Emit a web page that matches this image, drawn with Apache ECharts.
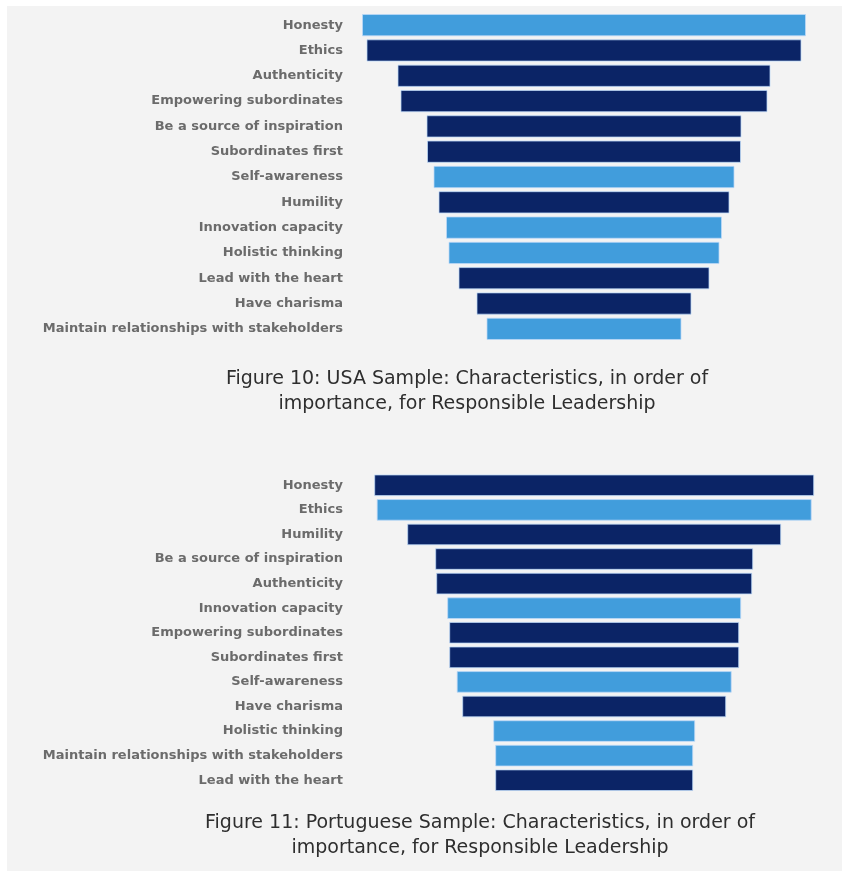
<!DOCTYPE html>
<html>
<head>
<meta charset="utf-8">
<script src="https://cdn.jsdelivr.net/npm/echarts@6/dist/echarts.min.js"></script>
<style>
  html, body { margin: 0; padding: 0; background: #ffffff; }
  #chart { width: 842px; height: 871px; }
</style>
</head>
<body>
<div id="chart"></div>
<script>
// Figure 10 – USA sample, characteristics ranked by importance
const usaCategories = [
  'Honesty', 'Ethics', 'Authenticity', 'Empowering subordinates',
  'Be a source of inspiration', 'Subordinates first', 'Self-awareness',
  'Humility', 'Innovation capacity', 'Holistic thinking',
  'Lead with the heart', 'Have charisma', 'Maintain relationships with stakeholders'
];
const usaValues = [444, 435, 373, 367, 315, 314, 301, 291, 276, 271, 251, 215, 195];
const usaShade = ['light', 'dark', 'dark', 'dark', 'dark', 'dark', 'light', 'dark', 'light', 'light', 'dark', 'dark', 'light'];

// Figure 11 – Portuguese sample, characteristics ranked by importance
const ptCategories = [
  'Honesty', 'Ethics', 'Humility', 'Be a source of inspiration',
  'Authenticity', 'Innovation capacity', 'Empowering subordinates',
  'Subordinates first', 'Self-awareness', 'Have charisma',
  'Holistic thinking', 'Maintain relationships with stakeholders', 'Lead with the heart'
];
const ptValues = [440, 435, 374, 318, 316, 294, 290, 290, 275, 264, 202, 198, 198];
const ptShade = ['dark', 'light', 'dark', 'dark', 'dark', 'light', 'dark', 'dark', 'light', 'dark', 'light', 'light', 'dark'];

const usaTitle = ['Figure 10: USA Sample: Characteristics, in order of', 'importance, for Responsible Leadership'];
const ptTitle = ['Figure 11: Portuguese Sample: Characteristics, in order of', 'importance, for Responsible Leadership'];

const COLORS = { light: '#419ddc', dark: '#0b2466' };
const labelFont = 'DejaVu Sans';
const titleFont = 'DejaVu Sans';

const chart = echarts.init(document.getElementById('chart'), null, { renderer: 'canvas' });

// Each funnel row is a bar centred on zero: an invisible offset of -v/2
// stacked with the visible bar of length v.
function funnelSeries(idx, values, shades) {
  const stack = 'funnel' + idx;
  return [
    {
      type: 'bar', xAxisIndex: idx, yAxisIndex: idx, stack, stackStrategy: 'all',
      data: values.map(v => -v / 2),
      itemStyle: { color: 'transparent' },
      silent: true, barWidth: '88%'
    },
    {
      type: 'bar', xAxisIndex: idx, yAxisIndex: idx, stack, stackStrategy: 'all',
      data: values.map((v, i) => ({ value: v, itemStyle: { color: COLORS[shades[i]] } })),
      itemStyle: { borderColor: 'rgba(190,218,248,0.75)', borderWidth: 1 },
      barWidth: '88%'
    }
  ];
}

function valueAxis(idx, half) {
  return { type: 'value', gridIndex: idx, min: -half, max: half, show: false };
}

function catAxis(idx, cats) {
  return {
    type: 'category', gridIndex: idx, data: cats, inverse: true,
    axisLine: { show: false }, axisTick: { show: false }, splitLine: { show: false },
    axisLabel: {
      margin: 10, color: '#6b6b6b', fontFamily: labelFont, fontWeight: 'bold', fontSize: 13
    }
  };
}

function titleBlock(lines, cx, top) {
  return {
    text: lines.join('\n'), left: cx, top, textAlign: 'center',
    textStyle: { fontFamily: titleFont, fontWeight: 'normal', fontSize: 19, color: '#2e2e2e', lineHeight: 25 }
  };
}

chart.setOption({
  animation: false,
  backgroundColor: '#ffffff',
  graphic: [{
    type: 'rect', z: -10, silent: true,
    shape: { x: 7, y: 6, width: 835, height: 865 },
    style: { fill: '#f3f3f3' }
  }],
  title: [titleBlock(usaTitle, 462, 362), titleBlock(ptTitle, 475, 806)],
  grid: [
    { left: 353, top: 12.5, width: 462, height: 329, containLabel: false },
    { left: 353, top: 473, width: 482.4, height: 319.5, containLabel: false }
  ],
  xAxis: [valueAxis(0, 231), valueAxis(1, 241.2)],
  yAxis: [catAxis(0, usaCategories), catAxis(1, ptCategories)],
  series: [...funnelSeries(0, usaValues, usaShade), ...funnelSeries(1, ptValues, ptShade)]
});
</script>
</body>
</html>
